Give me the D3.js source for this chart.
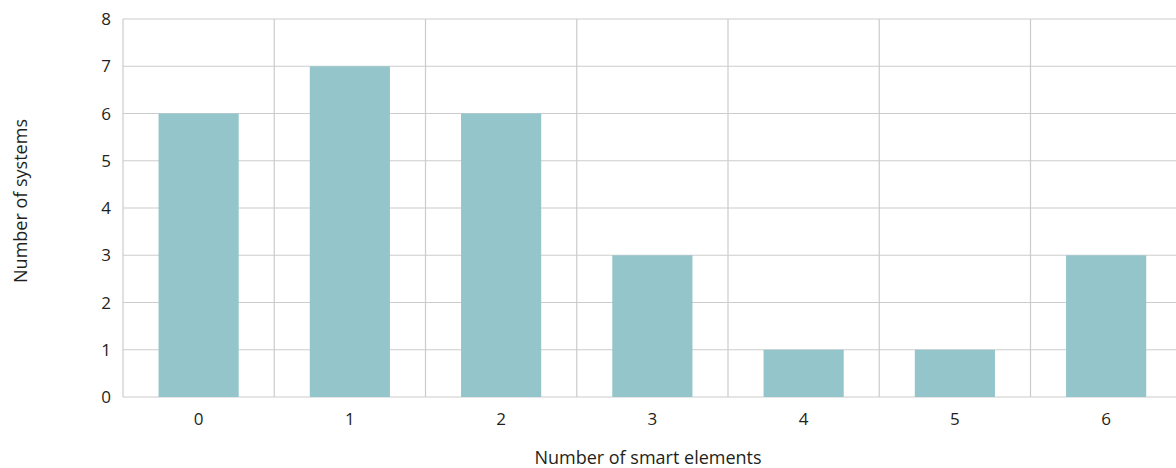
<!DOCTYPE html>
<html>
<head>
<meta charset="utf-8">
<script src="https://cdn.jsdelivr.net/npm/d3@7"></script>
<style>
  body { margin: 0; background: #fff; }
  svg { display: block; font-family: "Open Sans", "Noto Sans", sans-serif; }
</style>
</head>
<body>
<svg id="chart" width="1176" height="468"></svg>
<script>
// Systems counted by how many smart elements they contain
const categories = ["0", "1", "2", "3", "4", "5", "6"];
const systems = [6, 7, 6, 3, 1, 1, 3];
const yTicks = [0, 1, 2, 3, 4, 5, 6, 7, 8];

const svg = d3.select("#chart");
const plotLeft = 123, plotTop = 19, plotBottom = 397, plotRight = 1181.75;

const x = d3.scaleBand().domain(categories).range([plotLeft, plotRight])
  .paddingInner(0).paddingOuter(0);
const xBar = d3.scaleBand().domain(categories).range([plotLeft, plotRight])
  .paddingInner(0.47).paddingOuter(0.235);
const y = d3.scaleLinear().domain([0, 8]).range([plotBottom, plotTop]);

const grid = svg.append("g").attr("stroke", "#cccccc").attr("stroke-width", 1.2);

// horizontal gridlines
grid.selectAll("line.h").data(yTicks).join("line")
  .attr("class", "h")
  .attr("x1", plotLeft).attr("x2", plotRight)
  .attr("y1", d => y(d)).attr("y2", d => y(d));

// vertical gridlines at category boundaries
grid.selectAll("line.v").data(categories).join("line")
  .attr("class", "v")
  .attr("x1", d => x(d)).attr("x2", d => x(d))
  .attr("y1", plotTop).attr("y2", plotBottom);

// bars
svg.append("g").selectAll("rect").data(categories).join("rect")
  .attr("x", d => xBar(d))
  .attr("width", xBar.bandwidth())
  .attr("y", (d, i) => y(systems[i]))
  .attr("height", (d, i) => y(0) - y(systems[i]))
  .attr("fill", "#94c5cb");

// y tick labels
svg.append("g").selectAll("text").data(yTicks).join("text")
  .attr("x", 111).attr("y", d => y(d))
  .attr("dy", "0.36em")
  .attr("text-anchor", "end")
  .attr("font-size", 17)
  .attr("fill", "#231f20")
  .text(d => d);

// x tick labels
svg.append("g").selectAll("text").data(categories).join("text")
  .attr("x", d => x(d) + x.bandwidth() / 2)
  .attr("y", 425)
  .attr("text-anchor", "middle")
  .attr("font-size", 17)
  .attr("fill", "#231f20")
  .text(d => d);

// axis titles
svg.append("text")
  .attr("x", 648).attr("y", 464)
  .attr("text-anchor", "middle")
  .attr("font-size", 18)
  .attr("fill", "#231f20")
  .text("Number of smart elements");

svg.append("text")
  .attr("transform", "translate(21, 201) rotate(-90)")
  .attr("dy", "0.35em")
  .attr("text-anchor", "middle")
  .attr("font-size", 18)
  .attr("fill", "#231f20")
  .text("Number of systems");
</script>
</body>
</html>
